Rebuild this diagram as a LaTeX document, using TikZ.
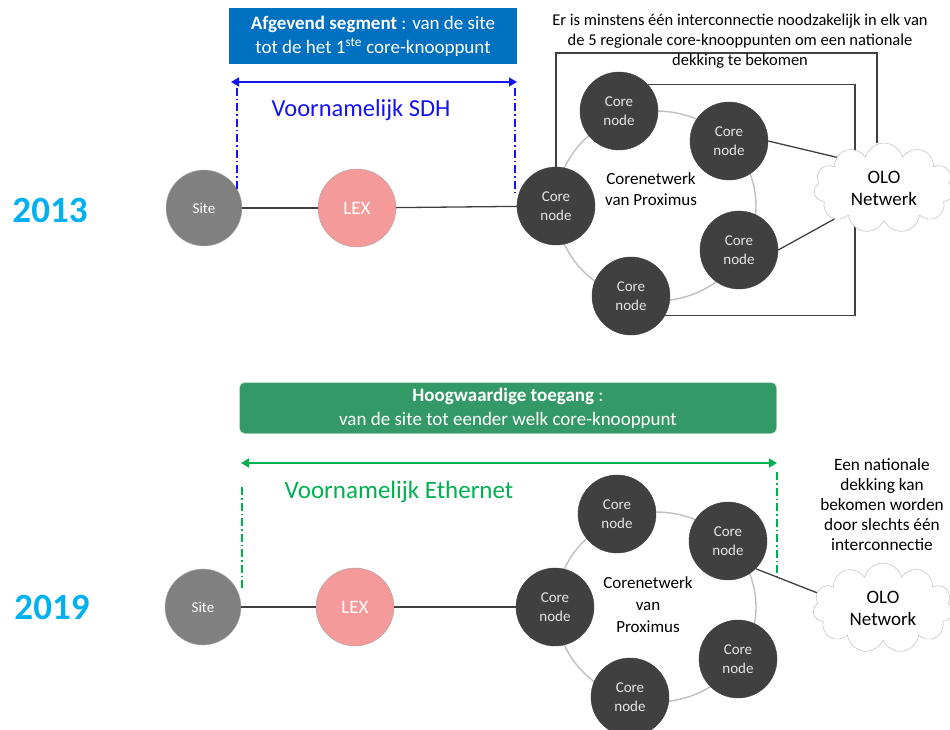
\documentclass[tikz,border=0pt]{standalone}
\usepackage{fontspec}
\setmainfont{Carlito}
\usepackage{tikz}
\usetikzlibrary{shapes.symbols,arrows.meta,backgrounds}

\definecolor{yearblue}{HTML}{00B0F0}
\definecolor{boxblue}{HTML}{0070C0}
\definecolor{boxgreen}{HTML}{339966}
\definecolor{sdhblue}{HTML}{1414F0}
\definecolor{ethgreen}{HTML}{00B050}
\definecolor{lexpink}{HTML}{F59A9A}
\definecolor{coregray}{HTML}{404040}

\begin{document}
\begin{tikzpicture}[x=1pt,y=-1pt,
        site/.style={circle,draw=gray!60,fill=gray,text=white,inner sep=0pt,minimum size=76pt,font=\fontsize{15}{17}\selectfont},
        lex/.style={circle,draw=gray!70,fill=lexpink,text=white,inner sep=0pt,minimum size=78pt,font=\fontsize{19}{21}\selectfont},
        core/.style={circle,draw=coregray,fill=coregray,text=white!90!black,inner sep=0pt,minimum size=78pt,align=center,font=\fontsize{15}{19}\selectfont},
        olo/.style={cloud,cloud puffs=11,aspect=1.6,draw=gray!60,fill=white,inner sep=0pt,minimum width=140pt,minimum height=90pt,align=center,font=\fontsize{19}{22}\selectfont},
        year/.style={text=yearblue,font=\bfseries\fontsize{37}{40}\selectfont},
        note/.style={align=center,font=\fontsize{16.5}{20}\selectfont},
        link/.style={draw=coregray,line width=1.3pt},
        ring/.style={draw=gray!50,line width=1.4pt},
        sdh/.style={draw=sdhblue,line width=1.6pt},
        eth/.style={draw=ethgreen,line width=1.6pt},
        dashdot/.style={line width=1.6pt,dash pattern=on 8pt off 3pt on 1.5pt off 3pt}]
        \useasboundingbox (0,0) rectangle (950,730);

        % 2013
        \node[year] (y13) at (50,210) {2013};
        \node[fill=boxblue,text=white,inner sep=0pt,minimum width=288pt,minimum height=56pt,align=center,font=\fontsize{19}{24}\selectfont] (seg13) at (373,36) {\textbf{Afgevend segment} : van de site\\tot de het 1\textsuperscript{ste} core-knooppunt};
        \node[text=sdhblue,font=\fontsize{24.5}{27}\selectfont] (sdh13) at (361,110) {Voornamelijk SDH};
        \node[note] (txt13) at (740,41) {Er is minstens één interconnectie noodzakelijk in elk van\\de 5 regionale core-knooppunten om een nationale\\dekking te bekomen};

        \coordinate (al13) at (231,82);
        \coordinate (ar13) at (517,82);
        \coordinate (dl13a) at (237,88);
        \coordinate (dl13b) at (237,189);
        \coordinate (dr13a) at (515,88);
        \coordinate (dr13b) at (515,193);
        \coordinate (q13) at (877,53);
        \coordinate (p13) at (855,200);

        \draw[ring] (656,206) ellipse [x radius=100pt,y radius=95pt];

        \node[site] (site13) at (204,208) {Site};
        \node[lex] (lex13) at (357,208) {LEX};
        \node[core] (c13a) at (556,206) {Core\\node};
        \node[core] (c13b) at (619,111) {Core\\node};
        \node[core] (c13c) at (729,141) {Core\\node};
        \node[core] (c13d) at (739,250) {Core\\node};
        \node[core] (c13e) at (631,296) {Core\\node};
        \node[align=center,font=\fontsize{17}{21}\selectfont] (net13) at (651,189) {Corenetwerk\\van Proximus};
        \node[olo] (olo13) at (884,188) {OLO\\Netwerk};

        \draw[sdh,{Triangle[length=8pt,width=9pt]}-{Triangle[length=8pt,width=9pt]}] (al13) -- (ar13);
        \draw[sdh,dashdot] (dl13a) -- (dl13b);
        \draw[sdh,dashdot] (dr13a) -- (dr13b);

        \path [link] (site13) edge (lex13);
        \path [link] (lex13) edge (c13a);
        \path [link] (c13c.east) edge (olo13.147);
        \path [link] (c13d.east) edge (olo13.212);
        \begin{scope}[on background layer]
            \draw[link] (c13a.north) |- (q13) -- (q13 |- olo13.north);
            \draw[link] (c13b.43) -| (p13) |- (c13e.-30);
        \end{scope}

        % 2019
        \node[year] (y19) at (52,607) {2019};
        \node[fill=boxgreen,draw=gray!30,rounded corners=5pt,text=white,inner sep=0pt,minimum width=537pt,minimum height=51pt,align=center,font=\fontsize{19}{24}\selectfont] (seg19) at (508,408) {\textbf{Hoogwaardige toegang} :\\van de site tot eender welk core-knooppunt};
        \node[text=ethgreen,font=\fontsize{25}{28}\selectfont] (eth19) at (399,492) {Voornamelijk Ethernet};
        \node[note,font=\fontsize{17.3}{20}\selectfont] (txt19) at (882,505) {Een nationale\\dekking kan\\bekomen worden\\door slechts één\\interconnectie};

        \coordinate (al19) at (241,463);
        \coordinate (ar19) at (777,463);
        \coordinate (dl19a) at (242,487);
        \coordinate (dl19b) at (242,590);
        \coordinate (dr19a) at (777,472);
        \coordinate (dr19b) at (777,577);

        \draw[ring] (656,607) ellipse [x radius=100pt,y radius=95pt];

        \node[site] (site19) at (203,607) {Site};
        \node[lex] (lex19) at (355,607) {LEX};
        \node[core] (c19a) at (555,607) {Core\\node};
        \node[core] (c19b) at (617,514) {Core\\node};
        \node[core] (c19c) at (728,541) {Core\\node};
        \node[core] (c19d) at (738,659) {Core\\node};
        \node[core] (c19e) at (630,697) {Core\\node};
        \node[align=center,font=\fontsize{17}{22}\selectfont] (net19) at (648,605) {Corenetwerk\\van\\Proximus};
        \node[olo] (olo19) at (883,608) {OLO\\Network};

        \draw[eth,{Triangle[length=8pt,width=9pt]}-{Triangle[length=8pt,width=9pt]}] (al19) -- (ar19);
        \draw[eth,dashdot] (dl19a) -- (dl19b);
        \draw[eth,dashdot] (dr19a) -- (dr19b);

        \path [link] (site19) edge (lex19);
        \path [link] (lex19) edge (c19a);
        \path [link] (c19c.-45) edge (olo19.167);
    \end{tikzpicture}
\end{document}
